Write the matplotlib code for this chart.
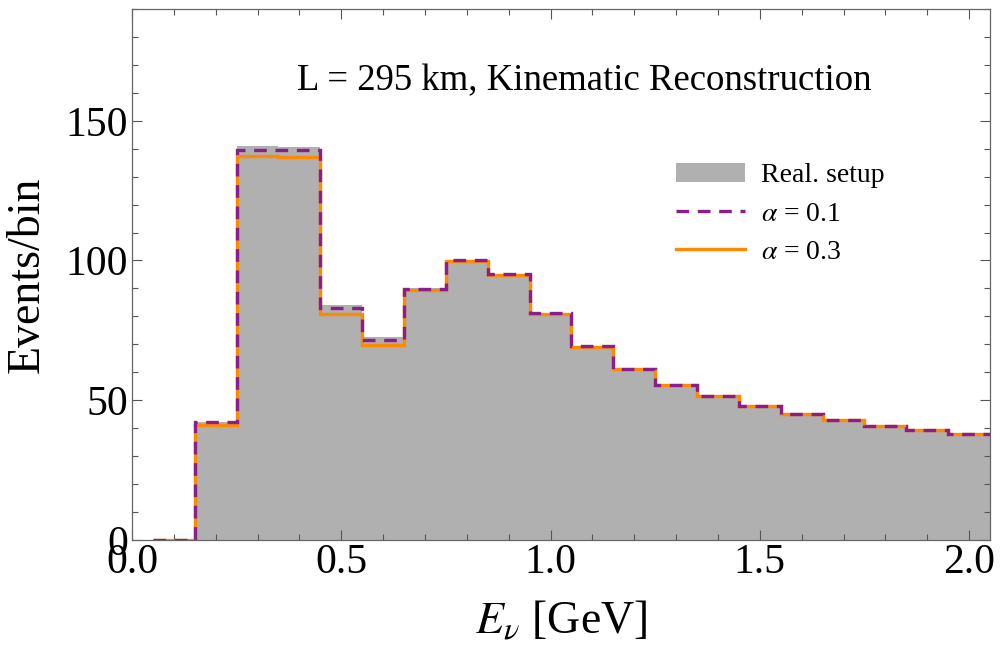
import numpy as np
import matplotlib
matplotlib.use("Agg")
import matplotlib.pyplot as plt
from matplotlib.ticker import MultipleLocator

plt.rcParams["font.family"] = ["Liberation Serif", "DejaVu Serif"]
plt.rcParams["mathtext.fontset"] = "stix"

# Bin edges in E_nu [GeV]
edges = [0.05, 0.15, 0.25, 0.35, 0.45, 0.55, 0.65, 0.75, 0.85, 0.95, 1.05,
         1.15, 1.25, 1.35, 1.45, 1.55, 1.65, 1.75, 1.85, 1.95, 2.05]

# Events per bin
real_setup = [0, 42.2, 140.8, 140.6, 84.1, 72.6, 90.0, 100.3, 95.2, 81.3,
              69.4, 61.3, 55.6, 51.7, 48.1, 45.3, 43.1, 41.0, 39.5, 37.9]
alpha_01   = [0, 42.0, 139.6, 139.4, 83.0, 71.6, 89.7, 100.2, 95.1, 81.2,
              69.2, 61.2, 55.5, 51.6, 48.0, 45.2, 43.0, 40.9, 39.4, 37.8]
alpha_03   = [0, 41.2, 137.5, 137.0, 80.8, 69.8, 89.3, 99.8, 94.9, 81.0,
              69.0, 61.0, 55.4, 51.5, 47.9, 45.1, 42.9, 40.8, 39.3, 37.7]

gray   = "#b0b0b0"
purple = "#8a1f8a"
orange = "#ff8a00"

fig = plt.figure(figsize=(10.0, 6.48), dpi=100)
ax = fig.add_axes([0.132, 0.167, 0.858, 0.819])

ax.stairs(real_setup, edges, fill=True, color=gray, label="Real. setup")
ax.stairs(alpha_03, edges, baseline=None, color=orange, lw=2.4,
          label=r"$\alpha$ = 0.3", zorder=3)
ax.stairs(alpha_01, edges, baseline=None, color=purple, lw=2.4,
          linestyle=(0, (3.8, 2.6)), label=r"$\alpha$ = 0.1", zorder=4)

ax.set_xlim(0, 2.05)
ax.set_ylim(0, 190)

ax.xaxis.set_major_locator(MultipleLocator(0.5))
ax.xaxis.set_minor_locator(MultipleLocator(0.1))
ax.yaxis.set_major_locator(MultipleLocator(50))
ax.yaxis.set_minor_locator(MultipleLocator(10))
ax.xaxis.set_major_formatter(matplotlib.ticker.FormatStrFormatter("%.1f"))

ax.tick_params(which="both", direction="in", top=True, right=True,
               color="#555555", width=0.8)
ax.tick_params(which="major", length=7, labelsize=30, pad=3)
ax.tick_params(which="minor", length=4)
for s in ax.spines.values():
    s.set_color("#666666")
    s.set_linewidth(0.9)

ax.set_xlabel(r"$E_\nu$ [GeV]", fontsize=33, labelpad=12)
ax.set_ylabel("Events/bin", fontsize=33, labelpad=12)

ax.text(1.081, 161, "L = 295 km, Kinematic Reconstruction", fontsize=26.5,
        ha="center", va="baseline")

h, l = ax.get_legend_handles_labels()
order = [0, 2, 1]
ax.legend([h[i] for i in order], [l[i] for i in order], loc="upper left",
          bbox_to_anchor=(0.634, 0.71), frameon=False, fontsize=20,
          borderaxespad=0, borderpad=0,
          handlelength=2.5, handletextpad=0.55, labelspacing=0.46)

fig.savefig("out.png", dpi=100)
